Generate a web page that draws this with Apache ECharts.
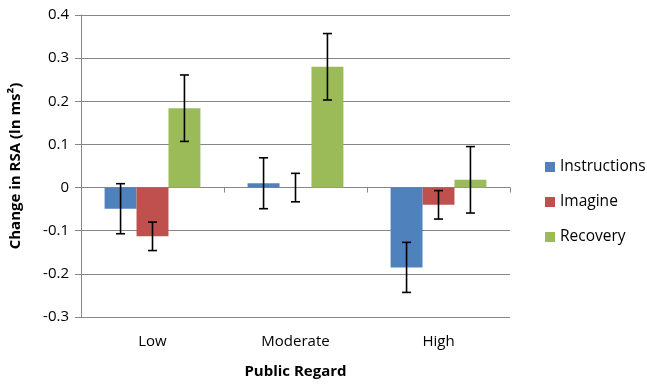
<!DOCTYPE html>
<html>
<head>
<meta charset="utf-8">
<script src="https://cdn.jsdelivr.net/npm/echarts@6/dist/echarts.min.js"></script>
<style>html,body{margin:0;padding:0;background:#fff}#c{width:647px;height:384px}</style>
</head>
<body>
<div id="c"></div>
<script>
var categories = ['Low', 'Moderate', 'High'];
var seriesNames = ['Instructions', 'Imagine', 'Recovery'];
var instructions = [-0.049, 0.010, -0.185];
var imagine = [-0.113, 0.000, -0.040];
var recovery = [0.184, 0.280, 0.018];
var instructionsErr = [0.058, 0.059, 0.058];
var imagineErr = [0.033, 0.033, 0.033];
var recoveryErr = [0.077, 0.077, 0.077];
var yTicks = [-0.3, -0.2, -0.1, 0, 0.1, 0.2, 0.3, 0.4];

var colors = ['#4F81BD', '#C0504D', '#9BBB59'];
var values = [instructions, imagine, recovery];
var errs = [instructionsErr, imagineErr, recoveryErr];
var gapRatio = 0.33;
var FONT = 'Open Sans';

var series = [];
values.forEach(function (vals, i) {
  series.push({
    name: seriesNames[i], type: 'bar', xAxisIndex: 0, data: vals,
    barGap: '0%', barCategoryGap: '33%',
    itemStyle: { color: colors[i] }
  });
});
values.forEach(function (vals, i) {
  series.push({
    type: 'custom', xAxisIndex: 0, z: 10,
    data: vals.map(function (v, k) { return [k, v, errs[i][k]]; }),
    renderItem: function (params, api) {
      var cat = api.value(0), v = api.value(1), e = api.value(2);
      var band = api.size([1, 0])[0];
      var bw = band * (1 - gapRatio) / 3;
      var c = api.coord([cat, v]);
      var x = c[0] + (i - 1) * bw;
      var yt = api.coord([cat, v + e])[1];
      var yb = api.coord([cat, v - e])[1];
      var cw = 4.5;
      var st = { stroke: '#000', lineWidth: 1.6 };
      return { type: 'group', children: [
        { type: 'line', shape: { x1: x, y1: yt, x2: x, y2: yb }, style: st },
        { type: 'line', shape: { x1: x - cw, y1: yt, x2: x + cw, y2: yt }, style: st },
        { type: 'line', shape: { x1: x - cw, y1: yb, x2: x + cw, y2: yb }, style: st }
      ]};
    }
  });
});

var chart = echarts.init(document.getElementById('c'), null, { renderer: 'canvas' });
chart.setOption({
  animation: false,
  textStyle: { fontFamily: FONT },
  grid: { left: 81, right: 137, top: 15, bottom: 67 },
  legend: {
    orient: 'vertical', left: 540, top: 152,
    data: seriesNames, icon: 'rect', itemWidth: 10, itemHeight: 10, itemGap: 15,
    textStyle: { fontFamily: FONT, fontSize: 15.5, color: '#000', lineHeight: 20 }
  },
  xAxis: [{
    type: 'category', data: categories, position: 'bottom',
    axisLine: { onZero: true, lineStyle: { color: '#868686', width: 1 } },
    axisTick: { show: true, length: 5, lineStyle: { color: '#868686' } },
    axisLabel: { show: false }, splitLine: { show: false }
  }, {
    type: 'category', data: categories, position: 'bottom',
    axisLine: { show: false, onZero: false }, axisTick: { show: false },
    axisLabel: { show: true, margin: 17, color: '#000', fontSize: 15, fontFamily: FONT },
    name: 'Public Regard', nameLocation: 'middle', nameGap: 47,
    nameTextStyle: { fontWeight: 'bold', fontSize: 15, color: '#000', fontFamily: FONT }
  }],
  yAxis: {
    type: 'value', min: yTicks[0], max: yTicks[yTicks.length - 1], interval: 0.1,
    axisLine: { show: true, lineStyle: { color: '#868686' } },
    axisTick: { show: true, length: 6, lineStyle: { color: '#868686' } },
    splitLine: { show: true, lineStyle: { color: '#868686', width: 1 } },
    axisLabel: { color: '#000', fontSize: 15, fontFamily: FONT, margin: 12,
      formatter: function (v) { var r = Math.round(v * 10) / 10; return r === 0 ? '0' : r.toFixed(1); } },
    name: 'Change in RSA (ln ms²)', nameLocation: 'middle', nameGap: 58,
    nameTextStyle: { fontWeight: 'bold', fontSize: 15, color: '#000', fontFamily: FONT }
  },
  series: series
});
</script>
</body>
</html>
